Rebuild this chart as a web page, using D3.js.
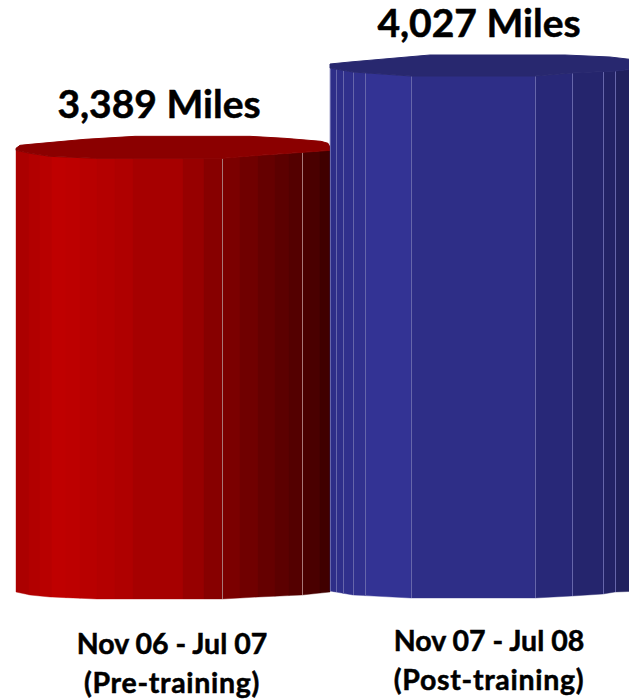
<!DOCTYPE html>
<html>
<head>
<meta charset="utf-8">
<style>
  html, body { margin: 0; padding: 0; background: #fff; overflow: hidden; }
  text { font-family: Lato, "Open Sans", sans-serif; font-weight: 700; fill: #000; stroke: #000; stroke-width: 0.5px; }
</style>
</head>
<body>
<div id="chart"></div>
<script src="https://cdn.jsdelivr.net/npm/d3@7"></script>
<script>
// Values
const periods = ["Nov 06 - Jul 07", "Nov 07 - Jul 08"];
const phases = ["(Pre-training)", "(Post-training)"];
const miles = [3389, 4027];

const width = 629;
const height = 700;

const svg = d3.select("#chart")
    .append("svg")
    .attr("width", width)
    .attr("height", height);

const x = d3.scaleBand().domain(periods).range([16, 644]);
const y = d3.scaleLinear().domain([0, 4027]).range([592, 66]);

// Facet look of each cylinder, as pixels across the band
const looks = [
    {
        edges: [0, 13, 24, 36, 50, 64, 81, 99, 117, 167, 188, 206, 224, 242, 259, 273, 286, 304, 314],
        stops: [0, 45, 117, 167, 206, 286, 314],
        colors: ["#a80000", "#c00000", "#ac0000", "#a00000", "#800000", "#500000", "#3c0000"],
        lines: [206, 286],
        lineColor: "#a87878",
        cap: "#8b0000",
        back: [[0, -1], [4, -4], [14, -5], [69, -10], [119, -13], [234, -13], [269, -11], [305, -8], [312, -6], [314, -2]],
        front: [[0, 1], [14, 4], [34, 7], [81, 9], [206, 9], [242, 6], [286, 3], [314, 1]],
        base: [[0, 0], [14, 3], [34, 5], [81, 7], [206, 7], [242, 5], [286, 3], [314, 0]]
    },
    {
        edges: [0, 4, 6, 13, 23, 35, 81, 205, 242, 273, 285, 314],
        stops: [0, 55, 205, 273, 314],
        colors: ["#2e2e88", "#333394", "#2a2a7e", "#242468", "#202058"],
        lines: [0, 6, 13, 23, 35, 81, 205, 242, 273, 285],
        lineColor: "#6666aa",
        cap: "#28286f",
        back: [[0, -2], [20, -4], [100, -11], [235, -11], [280, -9], [314, -5]],
        front: [[0, 2], [23, 6], [81, 10], [205, 10], [242, 7], [285, 5], [314, 2]],
        base: [[0, -1], [23, 3], [81, 6], [205, 6], [242, 4], [273, 2], [285, 0], [314, -1]]
    }
];

const profile = pts => d3.scaleLinear().domain(pts.map(p => p[0])).range(pts.map(p => p[1]));

periods.forEach((period, i) => {
    const look = looks[i];
    const left = x(period);
    const top = y(miles[i]);
    const bottom = y(0);
    const g = svg.append("g").attr("transform", `translate(${left}, 0)`);

    const frontY = profile(look.front);
    const baseY = profile(look.base);
    const shade = d3.scaleLinear().domain(look.stops).range(look.colors);

    // Every point where the outline bends, so facets keep the rim shape
    const ticks = pts => pts.map(p => p[0]);
    const facetPath = (a, b) => {
        const tops = [a, ...ticks(look.front).filter(t => t > a && t < b), b];
        const bots = [a, ...ticks(look.base).filter(t => t > a && t < b), b];
        const upper = tops.map(t => [t, top + frontY(t)]);
        const lower = bots.reverse().map(t => [t, bottom + baseY(t)]);
        return d3.line()([...upper, ...lower]) + "Z";
    };

    const facets = d3.pairs(look.edges);

    g.selectAll("path.facet")
        .data(facets)
        .join("path")
        .attr("class", "facet")
        .attr("d", d => facetPath(d[0], d[1]))
        .attr("fill", d => shade((d[0] + d[1]) / 2))
        .attr("stroke", d => shade((d[0] + d[1]) / 2))
        .attr("stroke-width", 0.4);

    g.selectAll("line.edge")
        .data(look.lines)
        .join("line")
        .attr("class", "edge")
        .attr("x1", d => d + 0.5)
        .attr("x2", d => d + 0.5)
        .attr("y1", d => top + frontY(d))
        .attr("y2", d => bottom + baseY(d))
        .attr("stroke", look.lineColor)
        .attr("stroke-width", 1);

    // Top cap
    const capPts = [
        ...look.back.map(p => [p[0], top + p[1]]),
        ...look.front.slice().reverse().map(p => [p[0], top + p[1]])
    ];
    g.append("path")
        .attr("d", d3.line()(capPts) + "Z")
        .attr("fill", look.cap)
        .attr("stroke", look.cap)
        .attr("stroke-width", 1)
        .attr("stroke-linejoin", "round");
});

// Value labels
const valueX = [159, 479];
const valueY = [118, 37];
svg.selectAll("text.value")
    .data(miles)
    .join("text")
    .attr("class", "value")
    .attr("x", (d, i) => valueX[i])
    .attr("y", (d, i) => valueY[i])
    .attr("text-anchor", "middle")
    .attr("font-size", 39)
    .text(d => d3.format(",")(d) + " Miles");

// Category labels
const labelX = [172, 489];
const labelY = [654, 651];
svg.selectAll("text.period")
    .data(periods)
    .join("text")
    .attr("class", "period")
    .attr("x", (d, i) => labelX[i])
    .attr("y", (d, i) => labelY[i])
    .attr("text-anchor", "middle")
    .attr("font-size", 28.5)
    .text(d => d);

svg.selectAll("text.phase")
    .data(phases)
    .join("text")
    .attr("class", "phase")
    .attr("x", (d, i) => labelX[i])
    .attr("y", (d, i) => labelY[i] + 39)
    .attr("text-anchor", "middle")
    .attr("font-size", 28.5)
    .attr("letter-spacing", 0.7)
    .text(d => d);
</script>
</body>
</html>
